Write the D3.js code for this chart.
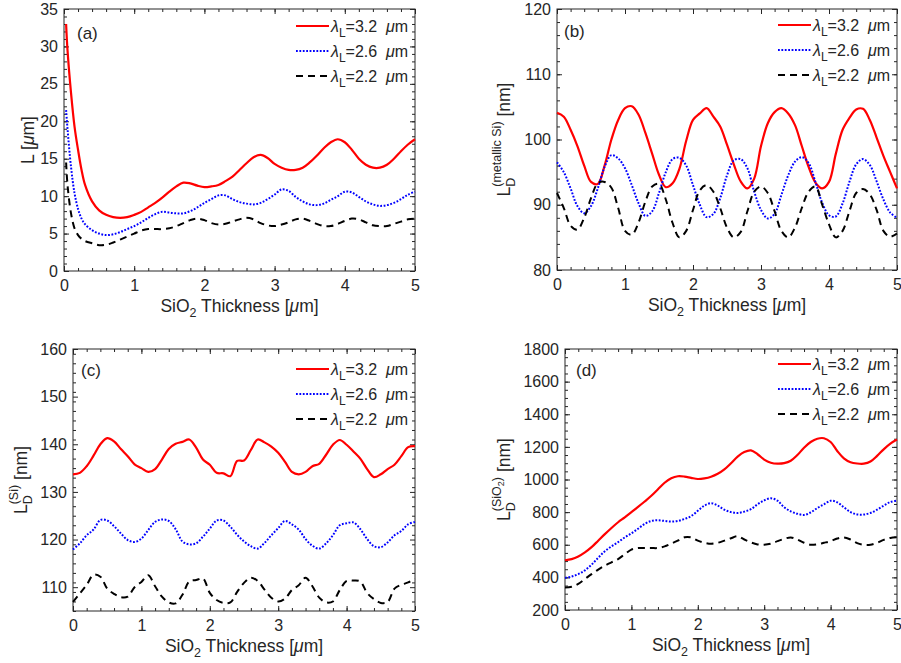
<!DOCTYPE html>
<meta charset="utf-8">
<style>
body {
  margin: 0px;
  background-color: white;
}
svg {
  font-family: "Liberation Sans", Arial, sans-serif;
}
.box {
  fill: none;
  stroke: #262626;
  stroke-width: 1px;
}
.axis .domain {
  display: none;
}
.axis line {
  stroke: #262626;
}
.axis text {
  fill: #262626;
  font-family: "Liberation Sans", Arial, sans-serif;
  font-size: 16px;
}
.line {
  fill: none;
}
.label {
  fill: #262626;
  font-size: 17.5px;
}
.legend text {
  fill: #262626;
  font-size: 16px;
}
</style>
<svg width="901" height="663"></svg>
<script src="https://cdn.jsdelivr.net/npm/d3@7"></script>
<script>

// ---- data ----
var wavelengths = ["3.2", "2.6", "2.2"];

// (a) L [um]
var thicknessA = [0.03, 0.05, 0.1, 0.15, 0.2, 0.25, 0.3, 0.4, 0.5, 0.6, 0.7, 0.8, 0.9, 1.0,
  1.1, 1.2, 1.3, 1.4, 1.5, 1.6, 1.7, 1.8, 1.9, 2.0, 2.1, 2.2, 2.3, 2.4, 2.5, 2.6, 2.7, 2.8, 2.9, 3.0,
  3.1, 3.2, 3.3, 3.4, 3.5, 3.6, 3.7, 3.8, 3.9, 4.0, 4.1, 4.2, 4.3, 4.4, 4.5, 4.6, 4.7, 4.8, 4.9, 5.0];
var lengthA32 = [33, 29.5, 23.8, 19.3, 16.2, 13.5, 11.5, 9.3, 8.1, 7.5, 7.2, 7.1, 7.2, 7.5,
  7.9, 8.5, 9.1, 9.8, 10.6, 11.3, 11.8, 11.7, 11.4, 11.2, 11.3, 11.5, 12.0, 12.6, 13.5, 14.4, 15.2, 15.5, 15.1, 14.3,
  13.8, 13.5, 13.5, 13.8, 14.5, 15.4, 16.4, 17.2, 17.6, 17.2, 16.2, 15.0, 14.2, 13.8, 13.8, 14.2, 15.0, 16.0, 16.9, 17.6];
var lengthA26 = [21.5, 19.0, 13.9, 10.4, 8.3, 7.0, 6.25, 5.45, 5.0, 4.8, 4.9, 5.2, 5.6, 6.0,
  6.5, 7.1, 7.6, 7.9, 7.8, 7.7, 7.7, 8.0, 8.5, 9.1, 9.6, 10.1, 10.1, 9.6, 9.2, 9.0, 8.9, 9.1, 9.6, 10.2,
  10.9, 10.7, 9.9, 9.3, 8.9, 8.8, 9.0, 9.5, 10.0, 10.6, 10.5, 9.9, 9.3, 8.9, 8.7, 8.8, 9.1, 9.6, 10.2, 10.6];
var lengthA22 = [14.5, 11.5, 7.7, 5.7, 4.8, 4.3, 4.0, 3.7, 3.45, 3.5, 3.8, 4.2, 4.6, 5.0,
  5.4, 5.6, 5.6, 5.6, 5.7, 6.0, 6.4, 6.8, 7.0, 6.8, 6.4, 6.2, 6.3, 6.6, 6.9, 7.1, 6.9, 6.4, 6.1, 6.0,
  6.2, 6.5, 6.9, 7.0, 6.7, 6.3, 6.0, 6.0, 6.3, 6.7, 7.0, 6.9, 6.5, 6.1, 6.0, 6.0, 6.3, 6.6, 6.9, 7.0];

// (b), (c), (d) share the same thickness samples
var thickness = [0, 0.1, 0.2, 0.3, 0.4, 0.5, 0.6, 0.7, 0.8, 0.9, 1.0, 1.1, 1.2, 1.3, 1.4, 1.5, 1.6,
  1.7, 1.8, 1.9, 2.0, 2.1, 2.2, 2.3, 2.4, 2.5, 2.6, 2.7, 2.8, 2.9, 3.0, 3.1, 3.2, 3.3, 3.4, 3.5,
  3.6, 3.7, 3.8, 3.9, 4.0, 4.1, 4.2, 4.3, 4.4, 4.5, 4.6, 4.7, 4.8, 4.9, 5.0];

// (b) L_D metallic Si [nm]
var metalB32 = [104.1, 103.5, 101.5, 99.0, 96.0, 93.5, 93.2, 96.0, 100.0, 103.0, 104.8, 105.1, 103.8,
  101.0, 97.8, 94.6, 92.7, 93.3, 95.5, 99.8, 103.0, 104.0, 104.8, 103.5, 102.0, 99.2, 96.2, 93.6,
  92.5, 94.0, 99.0, 102.5, 104.2, 104.8, 104.0, 102.2, 99.0, 95.8, 93.4, 92.5, 93.5, 97.8, 101.5,
  103.3, 104.6, 104.7, 103.0, 100.3, 97.5, 95.0, 92.5];
var metalB26 = [96.5, 95.0, 92.5, 89.8, 88.7, 89.8, 92.5, 95.8, 97.6, 97.1, 95.6, 93.0, 90.2, 88.3,
  89.0, 91.8, 95.0, 97.0, 97.2, 96.0, 93.0, 90.0, 88.1, 88.6, 91.0, 94.5, 96.8, 97.0, 95.6, 92.0,
  89.2, 87.9, 88.6, 91.5, 94.5, 96.6, 97.3, 96.4, 93.5, 90.3, 88.4, 88.2, 90.2, 93.5, 96.2, 97.0,
  96.1, 93.6, 90.8, 88.8, 88.0];
var metalB22 = [91.8, 89.5, 86.8, 86.2, 88.0, 91.0, 93.3, 93.5, 92.6, 89.5, 86.0, 85.4, 87.3, 90.5,
  92.8, 93.2, 90.8, 87.2, 85.0, 86.0, 89.2, 92.2, 93.0, 92.0, 89.5, 86.5, 85.0, 85.8, 89.0, 92.0,
  92.8, 91.8, 89.0, 86.0, 85.0, 86.5, 89.5, 92.0, 92.8, 90.0, 87.0, 85.0, 86.0, 89.0, 91.8, 92.4,
  91.6, 89.2, 86.0, 85.1, 85.6];

// (c) L_D Si [nm]
var siC32 = [133.7, 134.0, 135.4, 137.6, 140.0, 141.3, 140.6, 139.0, 137.5, 135.8, 135.0, 134.2,
  134.8, 136.8, 139.0, 140.1, 140.5, 141.0, 139.3, 136.8, 135.7, 134.0, 133.9, 133.3, 136.5, 136.6,
  138.8, 141.0, 140.4, 139.5, 138.2, 136.3, 134.2, 133.7, 134.2, 135.4, 135.9, 137.8, 139.9, 140.9,
  139.9, 138.5, 137.0, 134.8, 133.1, 133.7, 134.8, 135.7, 137.5, 139.4, 139.6];
var siC26 = [117.9, 119.2, 120.9, 122.1, 124.1, 124.0, 122.8, 121.3, 119.9, 119.5, 120.2, 122.0,
  123.7, 124.2, 123.9, 122.2, 119.6, 119.0, 119.2, 120.6, 122.3, 124.0, 124.0, 122.7, 121.0, 119.6,
  118.6, 118.1, 119.3, 120.9, 122.4, 123.9, 123.2, 122.1, 120.1, 118.7, 118.1, 119.2, 120.9, 123.0,
  123.4, 123.6, 122.2, 120.1, 118.6, 118.4, 119.4, 120.9, 121.8, 123.2, 123.7];
var siC22 = [106.9, 108.7, 110.5, 112.6, 112.2, 109.7, 108.6, 107.9, 108.0, 110.0, 111.1, 112.5,
  110.2, 108.0, 106.8, 106.6, 108.4, 111.2, 111.5, 111.8, 108.8, 107.3, 106.7, 106.8, 109.0, 110.9,
  112.0, 111.3, 109.5, 107.8, 107.0, 107.6, 109.4, 110.4, 112.0, 110.2, 107.8, 106.8, 107.0, 109.4,
  111.3, 111.4, 111.2, 108.8, 107.5, 106.7, 106.9, 109.7, 110.5, 111.0, 111.8];

// (d) L_D SiO2 [nm]
var oxideD32 = [505, 512, 528, 553, 585, 625, 665, 703, 738, 768, 800, 832, 865, 900, 940, 980, 1008,
  1020, 1018, 1010, 1003, 1007, 1017, 1035, 1062, 1100, 1140, 1168, 1178, 1155, 1122, 1103, 1097,
  1100, 1115, 1150, 1195, 1230, 1250, 1253, 1230, 1175, 1130, 1106, 1098, 1097, 1110, 1145, 1185,
  1220, 1245];
var oxideD26 = [397, 405, 420, 443, 478, 520, 560, 590, 616, 645, 670, 698, 728, 746, 750, 746, 742,
  746, 758, 776, 808, 840, 855, 840, 815, 800, 795, 803, 818, 848, 872, 885, 870, 830, 805, 790,
  783, 798, 825, 848, 870, 860, 830, 800, 786, 785, 795, 815, 840, 862, 870];
var oxideD22 = [338, 342, 360, 390, 420, 448, 472, 492, 512, 542, 570, 580, 580, 580, 580, 590, 607,
  626, 646, 645, 625, 612, 606, 612, 625, 640, 652, 632, 614, 602, 600, 606, 622, 636, 645, 632,
  612, 600, 603, 612, 622, 638, 645, 632, 610, 600, 600, 612, 630, 642, 646];

// tick labels
var xTicks = [0, 1, 2, 3, 4, 5];
var yTicksA = [0, 5, 10, 15, 20, 25, 30, 35];
var yTicksB = [80, 90, 100, 110, 120];
var yTicksC = [110, 120, 130, 140, 150, 160];
var yTicksD = [200, 400, 600, 800, 1000, 1200, 1400, 1600, 1800];

// ---- layout and styles ----
var seriesStyle = [
  {color: "#ff0000", width: 2.2, dash: null},
  {color: "#0000ff", width: 2, dash: "1.8,1.6"},
  {color: "#000000", width: 2, dash: "7,5"}
];

var panels = [
  {tag: "(a)", box: [64, 9, 415, 271], x: thicknessA, series: [lengthA32, lengthA26, lengthA22],
   yDomain: [0, 35], yTicks: yTicksA, yMinor: 1, tagDx: 13, tagDy: 30, legendDy: 17, ylabelDx: 30, ylabel: "L"},
  {tag: "(b)", box: [557, 9, 897, 270], x: thickness, series: [metalB32, metalB26, metalB22],
   yDomain: [80, 120], yTicks: yTicksB, yMinor: 2, tagDx: 7, tagDy: 28, legendDy: 16, ylabelDx: 47, ylabel: "(metallic Si)"},
  {tag: "(c)", box: [73, 349, 415, 611], x: thickness, series: [siC32, siC26, siC22],
   yDomain: [105, 160], yTicks: yTicksC, yMinor: 2, tagDx: 8, tagDy: 27, legendDy: 20, ylabelDx: 46, ylabel: "(Si)"},
  {tag: "(d)", box: [565, 349, 897, 610], x: thickness, series: [oxideD32, oxideD26, oxideD22],
   yDomain: [200, 1800], yTicks: yTicksD, yMinor: 50, tagDx: 11, tagDy: 27, legendDy: 15, ylabelDx: 55, ylabel: "(SiO2)"}
];

var plain = function(d) { return String(d); };

var svg = d3.select("svg");

panels.forEach(function(p) {
  var left = p.box[0], top = p.box[1], right = p.box[2], bottom = p.box[3];

  var x = d3.scaleLinear().domain([0, 5]).range([left, right]);
  var y = d3.scaleLinear().domain(p.yDomain).range([bottom, top]);

  var xMinor = d3.range(0, 5.0001, 0.2);
  var yMinor = d3.range(p.yDomain[0], p.yDomain[1] + 1e-6, p.yMinor);

  var g = svg.append("g");

  // minor ticks on all four sides (pointing inward)
  g.append("g").attr("class", "axis").attr("transform", "translate(0," + bottom + ")")
    .call(d3.axisBottom(x).tickValues(xMinor).tickSize(-3).tickFormat(""));
  g.append("g").attr("class", "axis").attr("transform", "translate(0," + top + ")")
    .call(d3.axisTop(x).tickValues(xMinor).tickSize(-3).tickFormat(""));
  g.append("g").attr("class", "axis").attr("transform", "translate(" + left + ",0)")
    .call(d3.axisLeft(y).tickValues(yMinor).tickSize(-3).tickFormat(""));
  g.append("g").attr("class", "axis").attr("transform", "translate(" + right + ",0)")
    .call(d3.axisRight(y).tickValues(yMinor).tickSize(-3).tickFormat(""));

  // major ticks
  g.append("g").attr("class", "axis").attr("transform", "translate(0," + bottom + ")")
    .call(d3.axisBottom(x).tickValues(xTicks).tickSize(-5).tickPadding(9).tickFormat(plain));
  g.append("g").attr("class", "axis").attr("transform", "translate(0," + top + ")")
    .call(d3.axisTop(x).tickValues(xTicks).tickSize(-5).tickFormat(""));
  g.append("g").attr("class", "axis").attr("transform", "translate(" + left + ",0)")
    .call(d3.axisLeft(y).tickValues(p.yTicks).tickSize(-5).tickPadding(6).tickFormat(plain));
  g.append("g").attr("class", "axis").attr("transform", "translate(" + right + ",0)")
    .call(d3.axisRight(y).tickValues(p.yTicks).tickSize(-5).tickFormat(""));

  g.append("rect")
    .attr("class", "box")
    .attr("x", left).attr("y", top)
    .attr("width", right - left).attr("height", bottom - top);

  // curves
  var line = d3.line()
    .curve(d3.curveCatmullRom.alpha(0.5))
    .x(function(d, i) { return x(p.x[i]); })
    .y(function(d) { return y(d); });

  p.series.forEach(function(values, i) {
    var s = seriesStyle[i];
    g.append("path")
      .attr("class", "line")
      .attr("d", line(values))
      .style("stroke", s.color)
      .style("stroke-width", s.width)
      .style("stroke-dasharray", s.dash);
  });

  // legend
  var legend = g.append("g").attr("class", "legend");
  wavelengths.forEach(function(w, i) {
    var s = seriesStyle[i];
    var ly = top + p.legendDy + i * 25;
    legend.append("line")
      .attr("x1", right - 119).attr("x2", right - 86)
      .attr("y1", ly).attr("y2", ly)
      .style("stroke", s.color)
      .style("stroke-width", s.width)
      .style("stroke-dasharray", s.dash);
    var t = legend.append("text").attr("x", right - 84).attr("y", ly + 5.5);
    t.append("tspan").style("font-style", "italic").text("\u03bb");
    t.append("tspan").attr("dy", 5).style("font-size", "12px").text("L");
    t.append("tspan").attr("dy", -5).text("=" + w + "\u00a0 ");
    t.append("tspan").style("font-style", "italic").text("\u03bc");
    t.append("tspan").text("m");
  });

  // panel tag
  g.append("text")
    .attr("class", "label")
    .attr("x", left + p.tagDx)
    .attr("y", top + p.tagDy)
    .style("font-size", "17px")
    .text(p.tag);

  // x label
  var xl = g.append("text")
    .attr("class", "label")
    .attr("x", (left + right) / 2)
    .attr("y", bottom + 41)
    .attr("text-anchor", "middle");
  xl.append("tspan").text("SiO");
  xl.append("tspan").attr("dy", 5).style("font-size", "12.5px").text("2");
  xl.append("tspan").attr("dy", -5).text(" Thickness [");
  xl.append("tspan").style("font-style", "italic").text("\u03bc");
  xl.append("tspan").text("m]");

  // y label
  var cx = left - p.ylabelDx, cy = (top + bottom) / 2;
  var yl = g.append("text")
    .attr("class", "label")
    .attr("text-anchor", "middle")
    .attr("transform", "translate(" + cx + "," + cy + ") rotate(-90)");
  if (p.ylabel === "L") {
    yl.append("tspan").text("L [");
    yl.append("tspan").style("font-style", "italic").text("\u03bc");
    yl.append("tspan").text("m]");
  } else {
    yl.append("tspan").text("L");
    yl.append("tspan").attr("dy", 5).style("font-size", "12.5px").text("D");
    if (p.ylabel === "(SiO2)") {
      yl.append("tspan").attr("dx", -9).attr("dy", -14).style("font-size", "12.5px").text("(SiO");
      yl.append("tspan").attr("dy", 3).style("font-size", "9px").text("2");
      yl.append("tspan").attr("dy", -3).style("font-size", "12.5px").text(")");
    } else {
      yl.append("tspan").attr("dx", -9).attr("dy", -14).style("font-size", "12.5px").text(p.ylabel);
    }
    yl.append("tspan").attr("dy", 9).text(" [nm]");
  }
});

</script>
